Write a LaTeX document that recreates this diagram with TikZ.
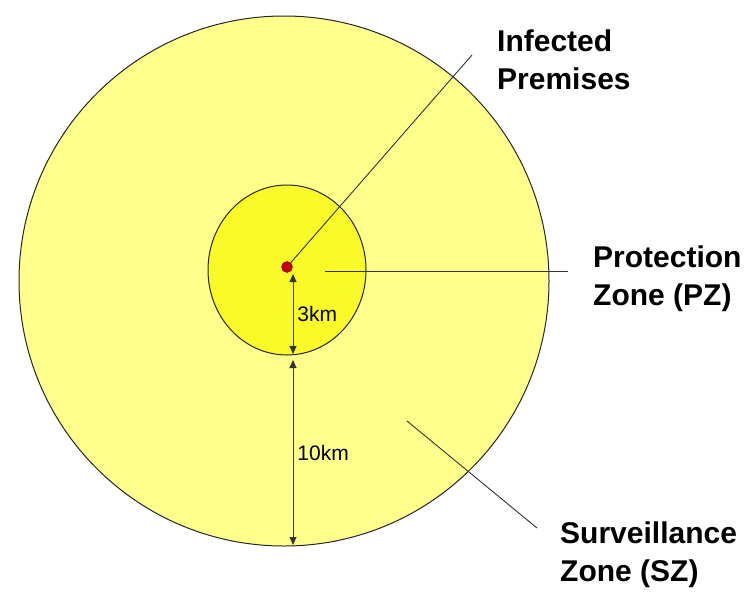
\documentclass[tikz,border=0pt]{standalone}
\usepackage{fontspec}
\setmainfont{Liberation Sans}
\usetikzlibrary{arrows.meta,shapes.geometric}
\definecolor{szyellow}{RGB}{255,255,140}
\definecolor{pzyellow}{RGB}{250,250,40}
\definecolor{ipred}{RGB}{200,0,10}
\begin{document}
\begin{tikzpicture}[x=1pt, y=-1pt,
    zone/.style={draw=black!85, line width=1pt, inner sep=0pt},
    leader/.style={draw=black!80, line width=0.9pt},
    dim/.style={leader, {Triangle[length=8pt,width=7pt]}-{Triangle[length=8pt,width=7pt]}},
    lbl/.style={font=\bfseries\fontsize{30}{38}\selectfont, align=left, anchor=north west, inner sep=0pt},
    dimlbl/.style={font=\fontsize{21}{24}\selectfont, anchor=west, inner sep=0pt}]
    \useasboundingbox (0,0) rectangle (744,592);
    \node[zone, circle, fill=szyellow, minimum size=530pt] (sz) at (284,281) {};
    \node[zone, ellipse, fill=pzyellow, minimum width=158pt, minimum height=170pt] (pz) at (287,270) {};
    \coordinate (ipend) at (472,55);
    \coordinate (pzin) at (325,271);
    \coordinate (pzend) at (568,271);
    \coordinate (szin) at (407,421);
    \coordinate (szend) at (537,528);
    \coordinate (a3) at (293,274);
    \coordinate (b3) at (293,354);
    \coordinate (a10) at (293,360);
    \coordinate (b10) at (293,545);
    \node[circle, fill=ipred, draw=ipred!60!black, minimum size=11pt, inner sep=0pt] (ip) at (287,267) {};
    \draw[leader] (ip) -- (ipend);
    \draw[leader] (pzin) -- (pzend);
    \draw[leader] (szin) -- (szend);
    \draw[dim] (a3) -- (b3) node[dimlbl, midway, xshift=4pt] (km3) {3km};
    \draw[dim] (a10) -- (b10) node[dimlbl, midway, xshift=4pt] (km10) {10km};
    \node[lbl] (iplabel) at (497,30) {Infected\\Premises};
    \node[lbl] (pzlabel) at (593,246) {Protection\\Zone (PZ)};
    \node[lbl] (szlabel) at (560,522) {Surveillance\\Zone (SZ)};
\end{tikzpicture}
\end{document}
